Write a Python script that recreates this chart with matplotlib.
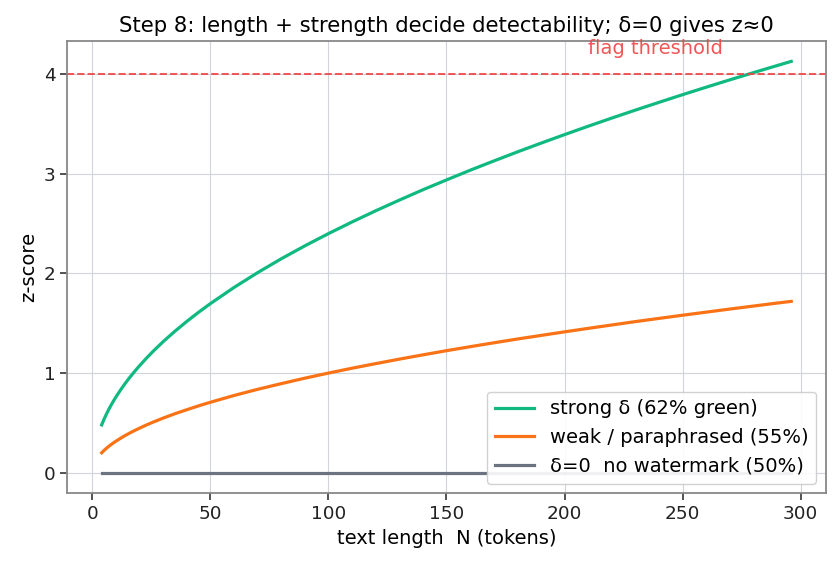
import matplotlib
matplotlib.use("Agg")
import matplotlib.pyplot as plt

N = [4, 5, 6, 7, 8, 9, 10, 12, 14, 16, 18, 20, 23, 26, 30, 35, 40, 45, 50,
     60, 70, 80, 90, 100, 110, 120, 130, 140, 150, 160, 170, 180, 190, 200,
     210, 220, 230, 240, 250, 260, 270, 280, 290, 296]
z_strong = [0.480, 0.537, 0.588, 0.635, 0.679, 0.720, 0.759, 0.831, 0.898,
            0.960, 1.018, 1.073, 1.151, 1.224, 1.315, 1.420, 1.518, 1.610,
            1.697, 1.859, 2.008, 2.147, 2.277, 2.400, 2.517, 2.629, 2.736,
            2.840, 2.939, 3.036, 3.129, 3.220, 3.308, 3.394, 3.478, 3.560,
            3.640, 3.718, 3.795, 3.870, 3.944, 4.016, 4.087, 4.129]
z_weak = [0.200, 0.224, 0.245, 0.265, 0.283, 0.300, 0.316, 0.346, 0.374,
          0.400, 0.424, 0.447, 0.480, 0.510, 0.548, 0.592, 0.632, 0.671,
          0.707, 0.775, 0.837, 0.894, 0.949, 1.000, 1.049, 1.095, 1.140,
          1.183, 1.225, 1.265, 1.304, 1.342, 1.378, 1.414, 1.449, 1.483,
          1.517, 1.549, 1.581, 1.612, 1.643, 1.673, 1.703, 1.720]
z_none = [0.0] * len(N)
labels = ["strong δ (62% green)", "weak / paraphrased (55%)", "δ=0  no watermark (50%)"]
colors = ["#10b981", "#f97316", "#6b7280"]
threshold = 4.0

fig, ax = plt.subplots(figsize=(8.4, 5.67), dpi=100)
for ys, lab, c in zip([z_strong, z_weak, z_none], labels, colors):
    ax.plot(N, ys, color=c, lw=2.3, label=lab)
ax.axhline(threshold, color="#ef4444", ls="--", lw=1.4, alpha=0.9)
ax.text(210, 4.2, "flag threshold", color="#ef4444", fontsize=14, alpha=0.9)

ax.set_title("Step 8: length + strength decide detectability; δ=0 gives z≈0", fontsize=15.2)
ax.set_xlabel("text length  N (tokens)", fontsize=14)
ax.set_ylabel("z-score", fontsize=14)
ax.grid(True, color="#d1d5db", lw=0.8)
ax.set_axisbelow(True)
for s in ax.spines.values():
    s.set_color("#888888")
    s.set_linewidth(1.3)
ax.tick_params(colors="#444444", labelcolor="#222222", labelsize=13.3, length=5, width=1.3)
ax.legend(loc="lower right", fontsize=14, framealpha=0.9)
fig.subplots_adjust(left=0.08, right=0.983, top=0.928, bottom=0.13)
fig.savefig("out.png", dpi=100)
